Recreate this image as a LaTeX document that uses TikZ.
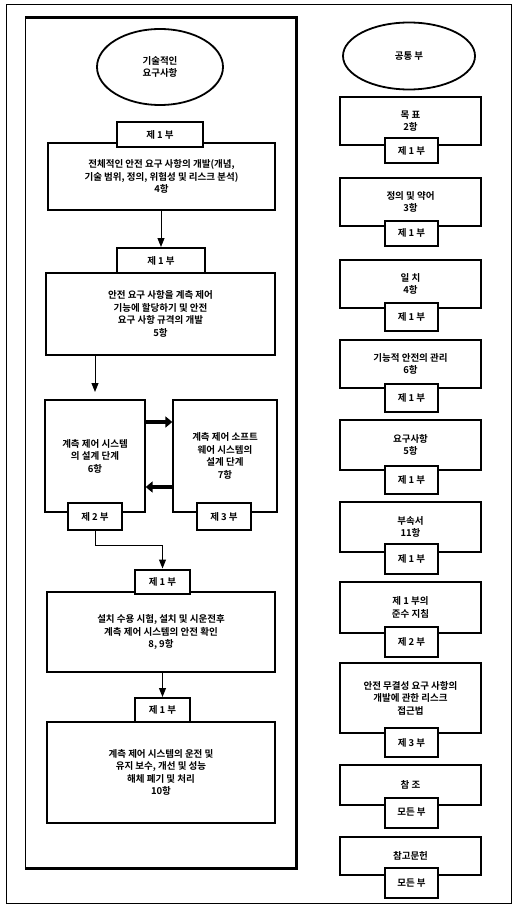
\documentclass[tikz,border=0pt]{standalone}
\usepackage{fontspec}
\setmainfont{Noto Sans CJK KR}[BoldFont={Noto Sans CJK KR Bold}]
\usetikzlibrary{positioning,arrows.meta,shapes.geometric}

\begin{document}
\begin{tikzpicture}[
    x=1pt, y=-1pt,
    txt/.style={font=\fontsize{9.5}{12.5}\selectfont\bfseries},
    box/.style={draw, line width=1.3pt, fill=white, align=center, inner sep=2pt, txt},
    side/.style={box, minimum width=141pt},
    tab/.style={draw, line width=2pt, fill=white, minimum height=25pt, inner sep=1pt, txt},
    oval/.style={draw, ellipse, line width=1.8pt, align=center, txt},
    arr/.style={-{Triangle[length=9pt, width=7pt]}, line width=1pt},
    fat/.style={-{Triangle[length=7pt, width=11pt]}, line width=4pt}
]
\useasboundingbox (0,0) rectangle (516,912);

% frames
\draw[line width=1pt] (6,5) rectangle (511,903);
\draw[line width=1pt] (25,18) rectangle (296,868);
\draw[line width=3pt] (25,18) -- (296,18) -- (296,868) -- (25,868);

% technical requirements
\node[oval, minimum width=126pt, minimum height=76pt] (tech) at (160,67) {기술적인\\요구사항};

\node[box, minimum width=227pt, minimum height=67pt] (overall) at (161.5,176.5)
    {전체적인 안전 요구 사항의 개발(개념,\\기술 범위, 정의, 위험성 및 리스크 분석)\\4항};
\node[tab, minimum width=86pt] (toverall) at (160,135) {제 1 부};

\node[box, minimum width=229pt, minimum height=82pt] (alloc) at (160.5,314)
    {안전 요구 사항을 계측 제어\\기능에 할당하기 및 안전\\요구 사항 규격의 개발\\5항};
\node[tab, minimum width=88pt] (talloc) at (161,260.5) {제 1 부};

\node[box, minimum width=100pt, minimum height=112pt] (hwdes) at (95,456)
    {계측 제어 시스템\\의 설계 단계\\6항};
\node[tab, minimum width=54pt, minimum height=27pt] (thwdes) at (95,516.5) {제 2 부};

\node[box, minimum width=104pt, minimum height=112pt] (swdes) at (225,456)
    {계측 제어 소프트\\웨어 시스템의\\설계 단계\\7항};
\node[tab, minimum width=54pt, minimum height=27pt] (tswdes) at (224,516.5) {제 3 부};

\node[box, minimum width=228pt, minimum height=80pt] (install) at (161,632)
    {설치 수용 시험, 설치 및 시운전후\\계측 제어 시스템의 안전 확인\\8, 9항};
\node[tab, minimum width=55pt, minimum height=24pt] (tinstall) at (162.5,581.5) {제 1 부};

\node[box, minimum width=228pt, minimum height=101pt] (oper) at (161,772.5)
    {계측 제어 시스템의 운전 및\\유지 보수, 개선 및 성능\\해체 폐기 및 처리\\10항};
\node[tab, minimum width=55pt, minimum height=24pt] (toper) at (162.5,710) {제 1 부};

\coordinate (hwin) at (95,392);
\coordinate (up) at (0,422);
\coordinate (dn) at (0,487);
\coordinate (join) at (162.5,545);

\draw[arr] (overall.south -| talloc.north) -- (talloc.north);
\draw[arr] (alloc.south -| hwin) -- (hwin);
\draw[fat] (hwdes.east |- up) -- (swdes.west |- up);
\draw[fat] (swdes.west |- dn) -- (hwdes.east |- dn);
\draw[arr] (thwdes.south) |- (join) -- (tinstall.north);
\draw[arr] (install.south -| toper.north) -- (toper.north);

% other requirements
\node[oval, minimum width=132pt, minimum height=67pt] (other) at (409,56) {공통 부};

\node[side, minimum height=48pt] (scope) at (410.5,121) {목 표\\2항};
\node[tab, minimum width=53pt] (tscope) at (411.5,151) {제 1 부};

\node[side, minimum height=48pt] (defs) at (410.5,202) {정의 및 약어\\3항};
\node[tab, minimum width=53pt] (tdefs) at (411.5,233) {제 1 부};

\node[side, minimum height=48pt] (conf) at (410.5,284) {일 치\\4항};
\node[tab, minimum width=53pt, minimum height=28pt] (tconf) at (411.5,317) {제 1 부};

\node[side, minimum height=48pt] (mgmt) at (410.5,364) {기능적 안전의 관리\\6항};
\node[tab, minimum width=53pt, minimum height=28pt] (tmgmt) at (411.5,398) {제 1 부};

\node[side, minimum height=50pt] (docs) at (410.5,445) {요구사항\\5항};
\node[tab, minimum width=53pt, minimum height=28pt] (tdocs) at (411.5,480) {제 1 부};

\node[side, minimum height=50pt] (annex) at (410.5,527) {부속서\\11항};
\node[tab, minimum width=53pt, minimum height=30pt] (tannex) at (411.5,559) {제 1 부};

\node[side, minimum height=51pt] (guide) at (410.5,607.5) {제 1 부의\\준수 지침};
\node[tab, minimum width=53pt, minimum height=30pt] (tguide) at (411.5,642) {제 2 부};

\node[side, minimum height=70pt] (risk) at (410.5,698)
    {안전 무결성 요구 사항의\\개발에 관한 리스크\\접근법};
\node[tab, minimum width=53pt, minimum height=29pt] (trisk) at (411.5,742.5) {제 3 부};

\node[side, minimum height=40pt] (refs) at (410.5,785) {참 조};
\node[tab, minimum width=53pt, minimum height=30pt] (trefs) at (411.5,812.5) {모든 부};

\node[side, minimum height=38pt] (biblio) at (410.5,856) {참고문헌};
\node[tab, minimum width=53pt, minimum height=30pt] (tbiblio) at (411.5,883) {모든 부};
\end{tikzpicture}
\end{document}
